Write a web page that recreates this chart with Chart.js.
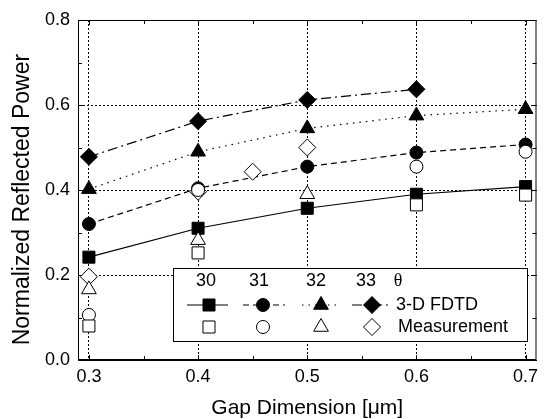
<!DOCTYPE html>
<html>
<head>
<meta charset="utf-8">
<script src="https://cdn.jsdelivr.net/npm/chart.js@4/dist/chart.umd.min.js"></script>
<style>
  html, body { margin: 0; padding: 0; background: #fff; }
</style>
</head>
<body>
<canvas id="myChart" width="546" height="419"></canvas>
<script>
// gap dimension (um)
var gapFdtd = [0.3, 0.4, 0.5, 0.6, 0.7];
var fdtd30 = [0.242, 0.310, 0.357, 0.390, 0.408];
var fdtd31 = [0.320, 0.404, 0.455, 0.488, 0.507];
var fdtd32 = [0.402, 0.490, 0.545, 0.575, 0.590];
var gapFdtd33 = [0.3, 0.4, 0.5, 0.6];
var fdtd33 = [0.478, 0.562, 0.612, 0.637];

// measurement
var gapMeas30 = [0.3, 0.4, 0.6, 0.7];
var meas30 = [0.080, 0.252, 0.365, 0.388];
var gapMeas31 = [0.3, 0.4, 0.6, 0.7];
var meas31 = [0.106, 0.400, 0.455, 0.490];
var gapMeas32 = [0.3, 0.4, 0.5];
var meas32 = [0.166, 0.282, 0.390];
var gapMeas33 = [0.3, 0.4, 0.45, 0.5];
var meas33 = [0.196, 0.396, 0.443, 0.500];

var angles = ['30', '31', '32', '33'];
var xTicks = [0.3, 0.4, 0.5, 0.6, 0.7];
var xMinor = [0.35, 0.45, 0.55, 0.65];
var yTicks = [0.0, 0.2, 0.4, 0.6, 0.8];
var yMinor = [0.1, 0.3, 0.5, 0.7];

var FONT = "'Liberation Sans', Arial, sans-serif";
Chart.defaults.font.family = FONT;
Chart.defaults.color = '#000';

function pts(xs, ys) {
    return xs.map(function (x, i) { return { x: x, y: ys[i] }; });
}

var styles = [
    { shape: 'rect', r: 8.5, dash: [] },
    { shape: 'circle', r: 6.5, dash: [6, 4] },
    { shape: 'triangle', r: 8.5, dash: [1.5, 5] },
    { shape: 'rectRot', r: 8.5, dash: [10, 4, 2, 4] }
];

function meas(i, data) {
    return {
        label: angles[i] + ' Measurement', data: data, showLine: false,
        pointStyle: styles[i].shape, pointRadius: styles[i].r, pointHoverRadius: styles[i].r,
        pointBackgroundColor: '#fff', pointBorderColor: '#000', pointBorderWidth: 1
    };
}
function fdtd(i, data) {
    return {
        label: angles[i] + ' 3-D FDTD', data: data, showLine: true,
        borderColor: '#000', borderWidth: 1.2, borderDash: styles[i].dash,
        pointStyle: styles[i].shape, pointRadius: styles[i].r, pointHoverRadius: styles[i].r,
        pointBackgroundColor: '#000', pointBorderColor: '#000', pointBorderWidth: 1
    };
}

// frame + inward ticks
var framePlugin = {
    id: 'frame',
    beforeDatasetsDraw: function (chart) {
        var ctx = chart.ctx, a = chart.chartArea;
        var xs = chart.scales.x, ys = chart.scales.y;
        ctx.save();
        ctx.strokeStyle = '#000';
        ctx.lineWidth = 1;
        ctx.setLineDash([]);
        ctx.strokeRect(a.left + 0.5, a.top + 0.5, a.right - a.left - 1, a.bottom - a.top - 1);
        ctx.beginPath();
        function xt(v, len) {
            var p = Math.round(xs.getPixelForValue(v)) + 0.5;
            ctx.moveTo(p, a.bottom); ctx.lineTo(p, a.bottom - len);
            ctx.moveTo(p, a.top); ctx.lineTo(p, a.top + len);
        }
        function yt(v, len) {
            var p = Math.round(ys.getPixelForValue(v)) + 0.5;
            ctx.moveTo(a.left, p); ctx.lineTo(a.left + len, p);
            ctx.moveTo(a.right, p); ctx.lineTo(a.right - len, p);
        }
        xTicks.forEach(function (v) { xt(v, 5); });
        xMinor.forEach(function (v) { xt(v, 4); });
        yTicks.forEach(function (v) { yt(v, 5); });
        yMinor.forEach(function (v) { yt(v, 4); });
        ctx.stroke();
        ctx.restore();
    }
};

// custom legend box (positions relative to the plot's left/top edge)
var legendPlugin = {
    id: 'boxLegend',
    afterDatasetsDraw: function (chart) {
        var ctx = chart.ctx, a = chart.chartArea;
        var ox = a.left - 78, oy = a.top - 20;
        var L = 173 + ox, T = 268 + oy, W = 354, H = 73;
        ctx.save();
        ctx.fillStyle = '#fff';
        ctx.fillRect(L, T, W, H);
        ctx.strokeStyle = '#000';
        ctx.lineWidth = 1;
        ctx.setLineDash([]);
        ctx.strokeRect(L + 0.5, T + 0.5, W, H);

        var head = [206, 259, 316, 366];
        var sym = [209, 263, 321, 372];
        var lines = [[187, 228], [243, 285], [302, 338], [352, 392]];
        var y1 = 281 + oy, y2 = 305 + oy, y3 = 327 + oy;
        ctx.fillStyle = '#000';
        ctx.font = '18px ' + FONT;
        ctx.textBaseline = 'middle';
        ctx.textAlign = 'center';
        angles.forEach(function (t, i) { ctx.fillText(t, head[i] + ox, y1); });
        ctx.font = '18px "Liberation Serif", "Times New Roman", serif';
        ctx.fillText('\u03b8', 398 + ox, y1);
        ctx.font = '18px ' + FONT;
        ctx.textAlign = 'left';
        ctx.fillText('3-D FDTD', 396 + ox, y2);
        ctx.fillText('Measurement', 398 + ox, y3);

        for (var i = 0; i < 4; i++) {
            var cx = sym[i] + ox;
            ctx.strokeStyle = '#000';
            ctx.lineWidth = 1.2;
            ctx.setLineDash(styles[i].dash);
            ctx.beginPath();
            ctx.moveTo(lines[i][0] + ox, y2);
            ctx.lineTo(lines[i][1] + ox, y2);
            ctx.stroke();
            ctx.setLineDash([]);
            ctx.lineWidth = 1;
            ctx.fillStyle = '#000';
            Chart.helpers.drawPoint(ctx, { pointStyle: styles[i].shape, radius: styles[i].r, rotation: 0, borderWidth: 1 }, cx, y2);
            ctx.fillStyle = '#fff';
            Chart.helpers.drawPoint(ctx, { pointStyle: styles[i].shape, radius: styles[i].r, rotation: 0, borderWidth: 1 }, cx, y3);
        }
        ctx.restore();
    }
};

var ctx = document.getElementById('myChart').getContext('2d');
var myChart = new Chart(ctx, {
    type: 'scatter',
    data: {
        datasets: [
            meas(0, pts(gapMeas30, meas30)),
            meas(1, pts(gapMeas31, meas31)),
            meas(2, pts(gapMeas32, meas32)),
            meas(3, pts(gapMeas33, meas33)),
            fdtd(0, pts(gapFdtd, fdtd30)),
            fdtd(1, pts(gapFdtd, fdtd31)),
            fdtd(2, pts(gapFdtd, fdtd32)),
            fdtd(3, pts(gapFdtd33, fdtd33))
        ]
    },
    options: {
        responsive: false,
        animation: false,
        layout: { padding: { top: 20, right: 3, left: 0, bottom: 0 } },
        plugins: { legend: { display: false }, tooltip: { enabled: false } },
        scales: {
            x: {
                type: 'linear', min: 0.29, max: 0.71,
                afterBuildTicks: function (s) { s.ticks = xTicks.map(function (v) { return { value: v }; }); },
                afterFit: function (s) { s.height = 59; },
                ticks: {
                    font: { size: 18 }, color: '#000', padding: 6, maxRotation: 0,
                    callback: function (v) { return v.toFixed(1); }
                },
                grid: { color: '#000', lineWidth: 1, drawTicks: false },
                border: { display: true, color: '#000', width: 1, dash: [2, 2] },
                title: {
                    display: true, text: 'Gap Dimension [\u03bcm]', color: '#000',
                    font: { size: 21, lineHeight: 1 }, padding: { top: 0, bottom: 0 }
                }
            },
            y: {
                min: 0, max: 0.8,
                afterBuildTicks: function (s) { s.ticks = yTicks.map(function (v) { return { value: v }; }); },
                afterFit: function (s) { s.width = 78; },
                ticks: {
                    font: { size: 18 }, color: '#000', padding: 8,
                    callback: function (v) { return v.toFixed(1); }
                },
                grid: { color: '#000', lineWidth: 1, drawTicks: false },
                border: { display: true, color: '#000', width: 1, dash: [2, 2] },
                title: {
                    display: true, text: 'Normalized Reflected Power   ', color: '#000',
                    font: { size: 23, lineHeight: 1 }, padding: { top: 11, bottom: 0 }
                }
            }
        }
    },
    plugins: [framePlugin, legendPlugin]
});
</script>
</body>
</html>
